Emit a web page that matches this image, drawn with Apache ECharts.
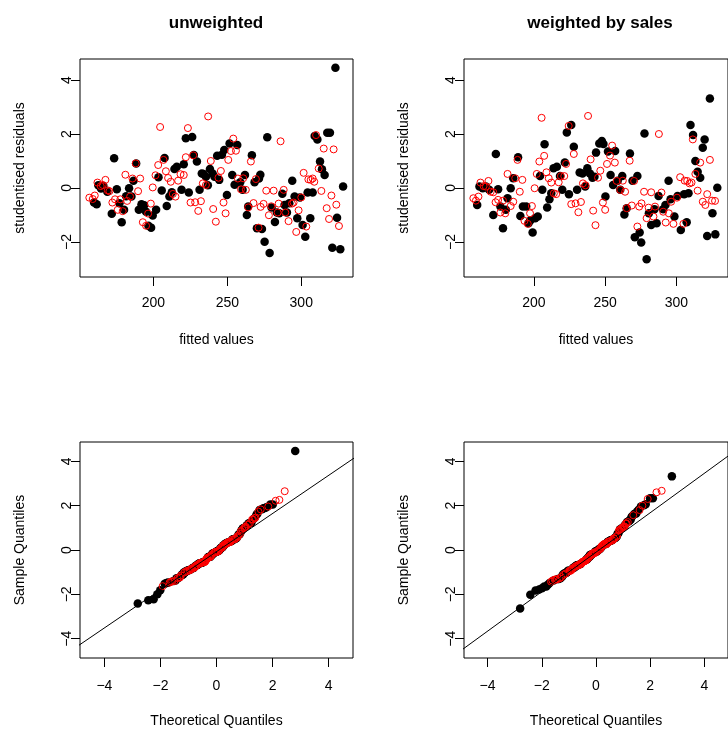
<!DOCTYPE html>
<html>
<head>
<meta charset="utf-8">
<script src="https://cdn.jsdelivr.net/npm/echarts@6/dist/echarts.min.js"></script>
<style>
  html, body { margin: 0; padding: 0; background: #fff; }
  #main { width: 728px; height: 729px; }
</style>
</head>
<body>
<div id="main"></div>
<script>
// fitted value / studentised residual pairs
var unweightedBlack = [[159.8,-0.54],[161.6,-0.60],[162.7,0.10],[164.5,-0.02],[166.1,0.07],[168.8,-0.14],[171.8,-0.96],[173.4,1.10],[175.2,-0.05],[177.0,-0.57],[178.5,-1.27],[180.1,-0.81],[181.5,-0.31],[183.5,-0.01],[185.1,-0.32],[186.5,0.27],[188.3,0.91],[190.1,-0.81],[191.9,-0.60],[193.7,-0.64],[195.0,-0.88],[196.6,-1.40],[198.4,-1.47],[199.5,-1.02],[201.8,-0.81],[203.4,0.40],[205.6,-0.09],[207.5,1.11],[209.0,-0.67],[210.8,-0.32],[212.4,-0.16],[214.2,0.70],[215.8,0.79],[219.0,-0.07],[220.5,0.88],[221.9,1.84],[223.9,-0.17],[226.2,1.89],[227.3,1.22],[229.4,0.98],[231.2,-0.07],[232.7,0.54],[233.9,0.52],[235.5,0.42],[236.8,0.10],[238.2,0.70],[240.0,0.54],[241.3,0.42],[243.1,1.19],[244.5,0.30],[246.3,1.23],[247.9,1.41],[249.7,-0.26],[251.5,1.65],[253.3,0.48],[254.9,0.12],[256.7,1.59],[258.7,0.21],[260.3,-0.07],[261.9,0.48],[263.2,-1.00],[264.1,-0.69],[266.6,1.21],[268.4,0.21],[270.0,-1.49],[271.4,0.35],[272.3,0.49],[273.4,-1.52],[275.2,-1.99],[277.0,1.88],[278.6,-2.41],[279.9,-0.72],[282.2,-1.26],[283.5,-0.91],[285.1,-0.94],[287.2,-0.21],[288.7,-0.63],[290.3,-0.91],[291.9,-0.57],[293.9,0.27],[295.5,-0.32],[297.3,-1.12],[299.1,-0.35],[300.9,-1.37],[302.7,-1.81],[304.3,-0.17],[306.1,-1.12],[307.7,-0.17],[309.1,1.93],[310.9,1.80],[312.7,0.98],[314.0,0.69],[315.8,0.48],[317.6,2.05],[319.4,2.05],[321.0,-2.22],[323.1,4.46],[324.2,-1.10],[326.4,-2.27],[328.3,0.05]];
var unweightedRed = [[156.6,-0.36],[158.9,-0.41],[160.3,-0.28],[162.1,0.20],[164.3,0.07],[165.7,0.11],[167.5,0.30],[169.1,-0.09],[170.2,-0.12],[172.2,-0.54],[174.0,-0.42],[175.8,-0.81],[177.6,-0.42],[179.2,-0.86],[181.0,0.49],[182.2,-0.48],[184.2,-0.32],[185.8,0.35],[188.0,0.91],[189.6,-0.12],[191.0,0.35],[192.8,-1.27],[195.0,-1.40],[196.4,-0.95],[198.2,-0.58],[199.5,0.02],[201.4,0.47],[203.2,0.85],[204.5,2.26],[206.8,1.04],[208.4,0.62],[209.9,0.37],[211.7,0.23],[213.1,-0.22],[214.9,-0.32],[216.7,0.27],[218.3,0.51],[220.5,0.48],[221.9,1.14],[223.3,2.22],[225.1,-0.54],[226.9,1.21],[228.2,-0.53],[230.3,-0.85],[232.1,-0.49],[233.4,0.17],[235.5,0.11],[237.0,2.65],[238.8,1.00],[240.4,-0.78],[242.2,-1.25],[244.0,0.38],[245.6,0.63],[247.4,-0.54],[248.8,-0.94],[250.6,1.04],[252.4,1.37],[254.0,1.83],[255.8,1.38],[257.1,0.35],[259.2,-0.05],[260.7,0.36],[262.5,-0.07],[264.1,-0.72],[265.9,0.98],[267.7,-0.56],[269.3,0.33],[271.1,-1.47],[272.5,-0.70],[274.5,-0.59],[276.3,-0.10],[278.1,-1.01],[279.7,-0.68],[281.3,-0.10],[284.0,-0.91],[284.7,-0.58],[286.0,1.73],[288.1,-0.07],[289.2,-0.91],[291.4,-1.23],[293.7,-0.58],[294.8,-0.54],[296.6,-1.63],[298.2,-0.83],[300.0,-0.35],[301.6,0.56],[303.4,-1.43],[304.8,0.32],[306.4,0.30],[307.7,0.35],[308.8,0.23],[310.0,1.96],[311.8,0.72],[313.6,-0.11],[315.2,1.46],[317.2,-0.75],[318.8,-1.15],[320.4,-0.28],[321.9,1.43],[323.7,-0.62],[325.5,-1.41]];
var weightedBlack = [[160.2,-0.63],[161.8,0.05],[164.1,-0.01],[166.3,0.05],[168.6,-0.07],[171.5,-1.00],[173.3,1.26],[174.9,-0.05],[176.5,-0.69],[178.3,-1.49],[180.3,-0.81],[181.5,-0.38],[183.7,-0.01],[185.5,0.36],[188.9,1.14],[190.5,-1.04],[192.3,-0.69],[194.6,-0.69],[196.2,-1.31],[197.5,-1.21],[199.1,-1.65],[200.9,-1.12],[202.7,-1.06],[204.3,0.44],[205.9,-0.07],[207.5,1.62],[209.3,-0.72],[210.9,-0.42],[212.2,-0.20],[213.8,0.73],[216.1,0.79],[218.3,0.44],[219.9,-0.07],[221.7,0.94],[223.1,2.06],[224.6,-0.23],[226.2,2.33],[228.0,1.53],[230.3,-0.07],[232.1,0.57],[234.1,0.54],[236.0,0.05],[237.5,0.73],[239.3,0.54],[241.1,0.38],[242.5,0.42],[243.6,1.31],[245.9,1.65],[247.7,1.74],[248.8,1.63],[250.2,-0.32],[252.0,1.35],[253.8,0.48],[255.6,0.11],[257.0,1.37],[258.8,0.27],[260.6,-0.07],[262.0,0.44],[263.5,-0.98],[265.1,-0.75],[267.4,1.28],[269.2,0.27],[270.8,-1.83],[272.6,0.44],[274.2,-1.65],[275.3,-2.02],[277.6,2.02],[279.1,-2.64],[280.7,-0.94],[282.3,-1.37],[284.6,-0.79],[286.1,-1.31],[287.5,-0.30],[290.7,-0.79],[292.3,-0.63],[294.5,0.27],[295.9,-0.42],[298.6,-1.06],[300.8,-0.30],[303.1,-1.56],[305.4,-0.23],[307.2,-1.27],[308.5,-0.20],[309.9,2.33],[311.7,1.96],[313.3,1.00],[314.9,0.60],[316.7,0.38],[318.5,1.49],[319.8,1.80],[321.6,-1.78],[323.5,3.32],[325.3,-0.94],[327.3,-1.72],[328.7,0.01]];
var weightedRed = [[157.5,-0.38],[159.3,-0.47],[161.1,-0.32],[162.5,0.20],[164.7,0.07],[166.3,0.05],[168.1,0.26],[169.7,-0.14],[171.5,-0.16],[173.1,-0.53],[174.9,-0.44],[176.5,-0.91],[178.3,-0.47],[179.9,-0.94],[181.5,0.52],[183.7,-0.67],[185.5,-0.51],[186.9,0.36],[188.5,1.04],[190.1,-0.14],[191.9,0.30],[193.4,-1.22],[195.7,-1.33],[197.3,-0.94],[198.6,-0.67],[200.5,-0.01],[202.0,0.52],[203.8,0.98],[205.4,2.60],[207.2,1.19],[208.8,0.58],[210.4,0.36],[212.2,0.20],[214.0,-0.20],[215.6,-0.23],[217.4,0.21],[219.0,0.44],[221.3,0.44],[222.6,0.89],[224.4,2.30],[226.2,-0.60],[228.0,1.26],[229.2,-0.57],[231.2,-0.90],[233.0,-0.52],[234.4,0.17],[236.2,0.10],[238.0,2.67],[239.8,1.06],[241.6,-0.84],[243.2,-1.38],[245.0,0.38],[246.6,0.64],[248.4,-0.54],[250.0,-0.81],[251.3,0.89],[253.4,1.20],[254.9,1.57],[256.8,0.94],[258.1,0.26],[260.6,-0.07],[262.4,0.27],[264.0,-0.14],[265.1,-0.75],[267.2,1.01],[268.7,-0.65],[270.3,0.26],[272.6,-1.43],[273.9,-0.69],[275.5,-0.57],[277.3,-0.14],[279.1,-1.12],[280.5,-0.73],[282.3,-0.16],[283.9,-1.06],[285.0,-0.69],[287.7,2.00],[289.5,-0.17],[290.7,-0.88],[292.5,-1.28],[294.7,-0.94],[296.3,-0.51],[297.9,-1.33],[300.4,-0.36],[302.6,0.40],[304.9,-1.33],[305.8,0.27],[307.6,0.26],[309.2,0.17],[310.6,0.20],[311.5,1.80],[313.3,0.52],[314.9,-0.10],[316.7,0.94],[318.5,-0.51],[320.3,-0.63],[321.6,-0.23],[323.5,1.04],[325.0,-0.47],[327.1,-0.48]];

var fittedTicks = [200, 250, 300];
var residTicks = [-2, 0, 2, 4];
var quantileTicks = [-4, -2, 0, 2, 4];

// qqline (intercept, slope)
var qqLineUnweighted = [-0.075, 0.86];
var qqLineWeighted = [-0.10, 0.89];

var FONT = 'Liberation Sans, Arial, Helvetica, sans-serif';

// inverse normal cdf (Acklam), used for qqnorm's theoretical quantiles
function qnorm(p) {
    var a = [-39.69683028665376, 220.9460984245205, -275.9285104469687, 138.3577518672690, -30.66479806614716, 2.506628277459239];
    var b = [-54.47609879822406, 161.5858368580409, -155.6989798598866, 66.80131188771972, -13.28068155288572];
    var c = [-0.007784894002430293, -0.3223964580411365, -2.400758277161838, -2.549732539343734, 4.374664141464968, 2.938163982698783];
    var d = [0.007784695709041462, 0.3224671290700398, 2.445134137142996, 3.754408661907416];
    var q, r;
    if (p < 0.02425) {
        q = Math.sqrt(-2 * Math.log(p));
        return (((((c[0]*q+c[1])*q+c[2])*q+c[3])*q+c[4])*q+c[5]) / ((((d[0]*q+d[1])*q+d[2])*q+d[3])*q+1);
    }
    if (p > 1 - 0.02425) {
        q = Math.sqrt(-2 * Math.log(1 - p));
        return -(((((c[0]*q+c[1])*q+c[2])*q+c[3])*q+c[4])*q+c[5]) / ((((d[0]*q+d[1])*q+d[2])*q+d[3])*q+1);
    }
    q = p - 0.5; r = q * q;
    return (((((a[0]*r+a[1])*r+a[2])*r+a[3])*r+a[4])*r+a[5])*q / (((((b[0]*r+b[1])*r+b[2])*r+b[3])*r+b[4])*r+1);
}

// normal QQ points of the pooled residuals, keeping the colour of each point
function qq(black, red) {
    var all = [];
    black.forEach(function (p) { all.push({ y: p[1], g: 'b' }); });
    red.forEach(function (p) { all.push({ y: p[1], g: 'r' }); });
    all.sort(function (u, v) { return u.y - v.y; });
    var n = all.length, out = { b: [], r: [] };
    all.forEach(function (p, i) { out[p.g].push([qnorm((i + 0.5) / n), p.y]); });
    return out;
}
var qqU = qq(unweightedBlack, unweightedRed);
var qqW = qq(weightedBlack, weightedRed);

function lineData(ab) { return [[-6, ab[0] - 6 * ab[1]], [6, ab[0] + 6 * ab[1]]]; }

var minus = function (v) { return String(v).replace('-', '\u2212'); };

function grid(left, top) {
    return { left: left, top: top, width: 273, height: 218, show: true,
             borderColor: '#000', borderWidth: 1, backgroundColor: 'transparent' };
}
function xAx(idx, min, max, ticks, name, margin) {
    return {
        type: 'value', gridIndex: idx, min: min, max: max, position: 'bottom',
        name: name, nameLocation: 'middle', nameGap: 56,
        nameTextStyle: { fontFamily: FONT, fontSize: 14, color: '#000' },
        axisLine: { show: false, onZero: false },
        axisTick: { show: true, inside: false, length: 9, customValues: ticks, lineStyle: { color: '#000' } },
        axisLabel: { customValues: ticks, margin: margin, fontFamily: FONT, fontSize: 14, color: '#000', formatter: minus },
        splitLine: { show: false }
    };
}
function yAx(idx, min, max, ticks, name) {
    return {
        type: 'value', gridIndex: idx, min: min, max: max, position: 'left',
        name: name, nameLocation: 'middle', nameGap: 53,
        nameTextStyle: { fontFamily: FONT, fontSize: 14, color: '#000' },
        axisLine: { show: false, onZero: false },
        axisTick: { show: true, inside: false, length: 9, customValues: ticks, lineStyle: { color: '#000' } },
        axisLabel: { customValues: ticks, rotate: 90, margin: 6, fontFamily: FONT, fontSize: 14, color: '#000', formatter: minus },
        splitLine: { show: false }
    };
}
function dots(idx, data) {
    return { type: 'scatter', xAxisIndex: idx, yAxisIndex: idx, data: data, symbol: 'circle', symbolSize: 8.5,
             itemStyle: { color: '#000', opacity: 1 }, silent: true };
}
function rings(idx, data) {
    return { type: 'scatter', xAxisIndex: idx, yAxisIndex: idx, data: data, symbol: 'circle', symbolSize: 7,
             itemStyle: { color: 'rgba(0,0,0,0)', borderColor: '#ff0000', borderWidth: 1, opacity: 1 }, silent: true };
}
function refLine(idx, ab) {
    return { type: 'line', xAxisIndex: idx, yAxisIndex: idx, data: lineData(ab), showSymbol: false, clip: true,
             lineStyle: { color: '#000', width: 1 }, silent: true };
}

var myChart = echarts.init(document.getElementById('main'), null, { renderer: 'canvas' });

var option = {
    animation: false,
    backgroundColor: '#fff',
    graphic: [
        { type: 'text', style: { text: 'unweighted', x: 216, y: 23, textAlign: 'center', textVerticalAlign: 'middle',
          font: 'bold 17px ' + FONT, fill: '#000' } },
        { type: 'text', style: { text: 'weighted by sales', x: 600, y: 23, textAlign: 'center', textVerticalAlign: 'middle',
          font: 'bold 17px ' + FONT, fill: '#000' } }
    ],
    grid: [grid(80, 59), grid(464, 59), grid(80, 442), grid(464, 442)],
    xAxis: [
        xAx(0, 150.3, 335.0, fittedTicks, 'fitted values', 19),
        xAx(1, 150.95, 336.2, fittedTicks, 'fitted values', 19),
        xAx(2, -4.87, 4.87, quantileTicks, 'Theoretical Quantiles', 21),
        xAx(3, -4.87, 4.87, quantileTicks, 'Theoretical Quantiles', 21)
    ],
    yAxis: [
        yAx(0, -3.30, 4.78, residTicks, 'studentised residuals'),
        yAx(1, -3.30, 4.78, residTicks, 'studentised residuals'),
        yAx(2, -4.87, 4.87, quantileTicks, 'Sample Quantiles'),
        yAx(3, -4.87, 4.87, quantileTicks, 'Sample Quantiles')
    ],
    series: [
        dots(0, unweightedBlack), rings(0, unweightedRed),
        dots(1, weightedBlack), rings(1, weightedRed),
        refLine(2, qqLineUnweighted), dots(2, qqU.b), rings(2, qqU.r),
        refLine(3, qqLineWeighted), dots(3, qqW.b), rings(3, qqW.r)
    ]
};

myChart.setOption(option);

window.addEventListener('resize', function () {
    myChart.resize();
});
</script>
</body>
</html>
